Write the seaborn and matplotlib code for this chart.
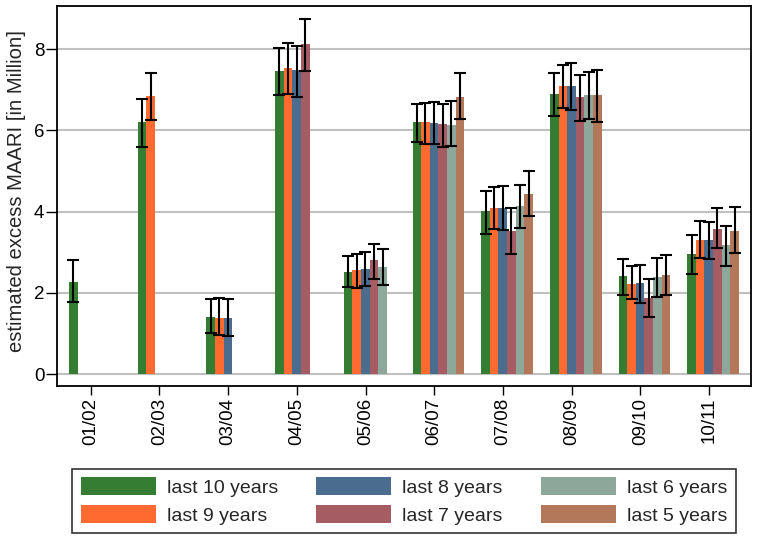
import numpy as np
import pandas as pd
import matplotlib
matplotlib.use("Agg")
import matplotlib.pyplot as plt
from matplotlib.patches import Patch
from matplotlib.colors import to_rgb
from matplotlib.container import BarContainer
import seaborn as sns

nan = np.nan
seasons = ["01/02", "02/03", "03/04", "04/05", "05/06", "06/07", "07/08", "08/09", "09/10", "10/11"]
windows = ["last 10 years", "last 9 years", "last 8 years", "last 7 years", "last 6 years", "last 5 years"]
colors = ["#357d32", "#ff6a30", "#4a6d8f", "#a65c63", "#8da79b", "#b37759"]

val_10 = [2.26, 6.20, 1.41, 7.46, 2.52, 6.20, 4.02, 6.89, 2.42, 2.96]
val_9 = [nan, 6.84, 1.38, 7.53, 2.56, 6.21, 4.09, 7.09, 2.23, 3.30]
val_8 = [nan, nan, 1.38, 7.49, 2.58, 6.18, 4.09, 7.09, 2.25, 3.30]
val_7 = [nan, nan, nan, 8.13, 2.82, 6.15, 3.52, 6.82, 1.88, 3.58]
val_6 = [nan, nan, nan, nan, 2.64, 6.14, 4.14, 6.87, 2.39, 3.19]
val_5 = [nan, nan, nan, nan, nan, 6.82, 4.44, 6.87, 2.44, 3.53]

lo_10 = [1.77, 5.60, 1.02, 6.86, 2.14, 5.71, 3.45, 6.35, 1.96, 2.47]
lo_9 = [nan, 6.26, 0.97, 6.90, 2.11, 5.66, 3.58, 6.54, 1.85, 2.87]
lo_8 = [nan, nan, 0.94, 6.82, 2.18, 5.66, 3.56, 6.51, 1.75, 2.84]
lo_7 = [nan, nan, nan, 7.46, 2.35, 5.60, 2.96, 6.24, 1.40, 3.11]
lo_6 = [nan, nan, nan, nan, 2.20, 5.62, 3.59, 6.27, 1.89, 2.67]
lo_5 = [nan, nan, nan, nan, nan, 6.28, 3.89, 6.21, 1.94, 2.99]

hi_10 = [2.80, 6.77, 1.84, 8.03, 2.90, 6.65, 4.52, 7.41, 2.84, 3.42]
hi_9 = [nan, 7.41, 1.88, 8.14, 2.95, 6.68, 4.61, 7.60, 2.66, 3.77]
hi_8 = [nan, nan, 1.86, 8.08, 3.00, 6.71, 4.63, 7.65, 2.70, 3.75]
hi_7 = [nan, nan, nan, 8.73, 3.21, 6.66, 4.09, 7.36, 2.34, 4.08]
hi_6 = [nan, nan, nan, nan, 3.08, 6.73, 4.66, 7.44, 2.87, 3.65]
hi_5 = [nan, nan, nan, nan, nan, 7.41, 5.01, 7.48, 2.94, 4.11]

yticks = [0, 2, 4, 6, 8]
ylabel = "estimated excess MAARI [in Million]"

vals = [val_10, val_9, val_8, val_7, val_6, val_5]
los = [lo_10, lo_9, lo_8, lo_7, lo_6, lo_5]
his = [hi_10, hi_9, hi_8, hi_7, hi_6, hi_5]

rows = []
for w, v, l, h in zip(windows, vals, los, his):
    for s, vv, ll, hh in zip(seasons, v, l, h):
        if not np.isnan(vv):
            rows.append({"season": s, "window": w, "value": vv, "lo": ll, "hi": hh})
df = pd.DataFrame(rows)

sns.set_theme(style="ticks")
plt.rcParams["font.family"] = ["Liberation Sans", "DejaVu Sans"]

fig = plt.figure(figsize=(7.6, 5.42), dpi=100)
ax = fig.add_axes([0.075, 0.2878, 0.913, 0.701])

sns.barplot(data=df, x="season", y="value", hue="window", order=seasons,
            hue_order=windows, palette=colors, width=0.752, errorbar=None,
            dodge=True, saturation=1, linewidth=0, legend=False, ax=ax, zorder=2)

lookup = {(r.season, r.window): (r.value, r.lo, r.hi) for r in df.itertuples()}
rgb_to_window = {tuple(np.round(to_rgb(c), 3)): w for c, w in zip(colors, windows)}
bars = [b for cont in list(ax.containers) if isinstance(cont, BarContainer) for b in cont]
for bar in bars:
    xc = bar.get_x() + bar.get_width() / 2
    i = int(round(xc))
    w = rgb_to_window.get(tuple(np.round(bar.get_facecolor()[:3], 3)))
    key = (seasons[i], w)
    if key not in lookup:
        continue
    v, l, h = lookup[key]
    ax.errorbar(xc, v, yerr=[[v - l], [h - v]], fmt="none", ecolor="black",
                elinewidth=1.5, capsize=4, capthick=1.5, zorder=3)

ax.set_xlim(-0.552, 9.55)
ax.set_ylim(-0.29, 9.06)
ax.set_yticks(yticks)
ax.set_yticklabels([str(t) for t in yticks])
ax.set_xticks(np.arange(len(seasons)) - 0.06)
ax.set_xticklabels(seasons, rotation=90)
ax.set_xlabel("")
ax.set_ylabel(ylabel, fontsize=14.6)
ax.yaxis.set_label_coords(-0.044, 0.513)

ax.yaxis.grid(True, color="#c0c0c0", linewidth=1.5, zorder=0)
ax.xaxis.grid(False)
ax.set_axisbelow(True)
for sp in ax.spines.values():
    sp.set_visible(True)
    sp.set_color("black")
    sp.set_linewidth(1.3)

ax.tick_params(axis="y", labelsize=13.5, length=8, width=1, pad=1, colors="black")
ax.tick_params(axis="x", labelsize=13.5, length=6.5, width=1, pad=2, colors="black")

handles = [Patch(facecolor=c, edgecolor="none") for c in colors]
leg = fig.legend(handles, windows, loc="upper center", bbox_to_anchor=(0.5316, 0.1347),
                 ncol=3, fontsize=14, frameon=True, fancybox=False, shadow=False,
                 handlelength=3.87, handleheight=1.03, handletextpad=0.57,
                 columnspacing=1.95, labelspacing=0.45, borderpad=0.42, borderaxespad=0)
leg.get_frame().set_edgecolor("black")
leg.get_frame().set_linewidth(1.2)

fig.savefig("out.png", dpi=100)
